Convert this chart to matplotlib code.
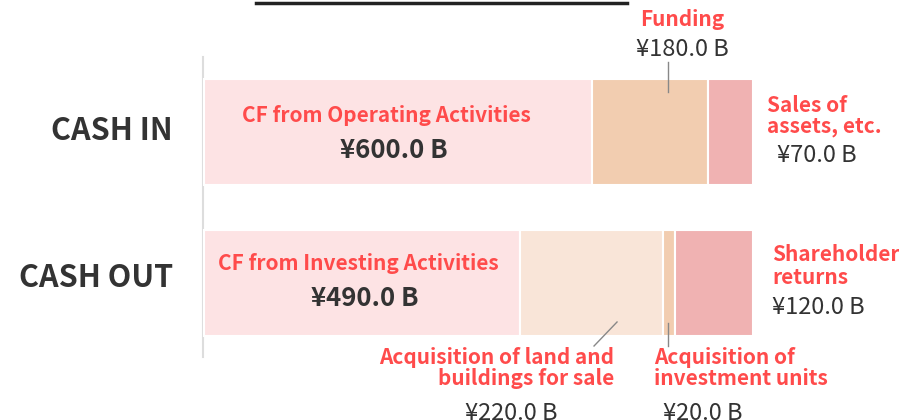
#!/usr/bin/env python3

import matplotlib
matplotlib.use("Agg")
from matplotlib import pyplot as plt

plt.rcParams['font.family'] = ['Noto Sans CJK JP', 'DejaVu Sans']

# values in billions of yen
cash_in_labels = ['CF from Operating Activities', 'Funding', 'Sales of\nassets, etc.']
cash_in_values = [600.0, 180.0, 70.0]
cash_out_labels = ['CF from Investing Activities', 'Acquisition of land and\nbuildings for sale',
                   'Acquisition of\ninvestment units', 'Shareholder\nreturns']
cash_out_values = [490.0, 220.0, 20.0, 120.0]
row_labels = ['CASH IN', 'CASH OUT']

cash_in_colors = ['#fde3e4', '#f2cdb0', '#f0b2b2']
cash_out_colors = ['#fde3e4', '#f9e5d8', '#f2cdb0', '#f0b2b2']
RED = '#ff4b4b'
DARK = '#333333'
RED_FS = 15
VAL_FS = 17
BIG_FS = 18.5

W, H = 899, 420
fig = plt.figure(figsize=(W / 100, H / 100), dpi=100)
ax = fig.add_axes([0, 0, 1, 1])

# map value units to pixels: 0 -> x=204, 850 -> x=753
scale = (753 - 204) / 850.0
ax.set_xlim(-204 / scale, (W - 204) / scale)
ax.set_ylim(H, 0)
ax.axis('off')

y_in, y_out, bar_h = 132, 283, 106
px = 1 / scale  # one pixel in value units


def fmt(v):
    return '¥{:.1f} B'.format(v)


def stack(y, values, colors):
    lefts = []
    left = 0
    for v, c in zip(values, colors):
        ax.barh(y, v, left=left, height=bar_h, color=c, edgecolor='white', linewidth=1.5)
        lefts.append(left)
        left += v
    return lefts


def red(x, y, s, ha='center', ls=1.0):
    ax.text(x, y, s, ha=ha, va='center', fontsize=RED_FS, fontweight='bold',
            color=RED, linespacing=ls)


def val(x, y, s, ha='center'):
    ax.text(x, y, s, ha=ha, va='center', fontsize=VAL_FS, color=DARK)


in_lefts = stack(y_in, cash_in_values, cash_in_colors)
out_lefts = stack(y_out, cash_out_values, cash_out_colors)

# axis line
ax.plot([-1 * px, -1 * px], [57, 357], color='#dddddd', lw=1.5, zorder=0)

# title underline (title itself is cropped)
ax.plot([52 * px, 423 * px], [3, 3], color='#222222', lw=2.5)

# row labels
ax.text(-31 * px, y_in - 1, row_labels[0], ha='right', va='center', fontsize=22,
        fontweight='bold', color=DARK)
ax.text(-31 * px, y_out - 5, row_labels[1], ha='right', va='center', fontsize=22,
        fontweight='bold', color=DARK)

# CASH IN
cx = in_lefts[0] + cash_in_values[0] / 2
red(cx - 11 * px, 116, cash_in_labels[0])
ax.text(cx - 4 * px, 150, fmt(cash_in_values[0]), ha='center', va='center',
        fontsize=BIG_FS, fontweight='bold', color=DARK)

cx = in_lefts[1] + cash_in_values[1] / 2
red(cx + 33 * px, 19, cash_in_labels[1])
val(cx + 33 * px, 49, fmt(cash_in_values[1]))
ax.plot([cx + 18 * px, cx + 18 * px], [62, 92], color='#888888', lw=1)

rx = in_lefts[2] + cash_in_values[2]
red(rx + 14 * px, 116, cash_in_labels[2], ha='left', ls=0.95)
val(rx + 24 * px, 156, fmt(cash_in_values[2]), ha='left')

# CASH OUT
cx = out_lefts[0] + cash_out_values[0] / 2
red(cx - 4 * px, 264, cash_out_labels[0])
ax.text(cx + 3 * px, 298, fmt(cash_out_values[0]), ha='center', va='center',
        fontsize=BIG_FS, fontweight='bold', color=DARK)

# land and buildings
x1 = out_lefts[1] + cash_out_values[1] / 2
ax.plot([x1 + 25.5 * px, x1 + 2.5 * px], [322, 346], color='#888888', lw=1)
red(x1 + 23 * px, 368, cash_out_labels[1], ha='right', ls=0.95)
val(x1 - 80 * px, 413, fmt(cash_out_values[1]))

# investment units
x2 = out_lefts[2] + cash_out_values[2] / 2
ax.plot([x2 - 1 * px, x2 - 1 * px], [323, 346], color='#888888', lw=1)
red(x2 - 15 * px, 368, cash_out_labels[2], ha='left', ls=1.05)
val(x2 + 34 * px, 413, fmt(cash_out_values[2]))

# shareholder returns
rx = out_lefts[3] + cash_out_values[3]
red(rx + 19 * px, 266, cash_out_labels[3], ha='left', ls=1.1)
val(rx + 19 * px, 307, fmt(cash_out_values[3]), ha='left')

fig.savefig('out.png', dpi=100)
